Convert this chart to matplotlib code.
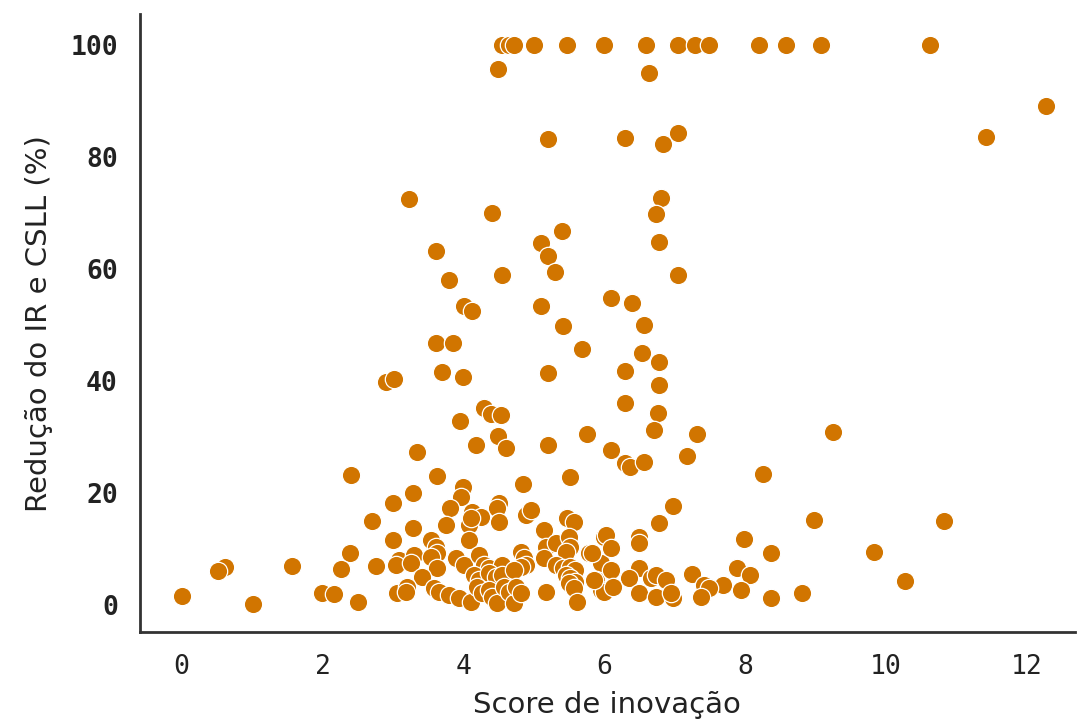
import matplotlib
matplotlib.use("Agg")
import matplotlib.pyplot as plt

# Score de inovação (x) and Redução do IR e CSLL (%) (y)
score = [
    4.55, 4.65, 4.72, 5.00, 5.47, 5.99, 6.59, 7.05, 7.29, 7.49, 8.19, 8.58, 9.08, 10.62,
    4.49, 6.64, 12.27, 11.42, 6.30, 7.04, 6.84, 5.20,
    3.23, 4.41, 5.40, 5.10, 5.20, 5.30, 3.61, 3.80, 4.55, 4.01, 4.12, 5.10, 5.42, 5.68,
    6.09, 6.39, 3.61, 3.85, 3.70, 3.99, 2.90, 3.02, 5.20, 6.29,
    6.80, 6.73, 6.78, 7.05, 6.57, 6.53, 6.78, 6.78, 6.30, 6.76, 6.71, 7.32, 5.76, 6.09,
    6.30, 6.37, 6.56, 7.17,
    4.29, 4.39, 4.53, 3.95, 4.49, 4.18, 5.20, 4.60, 3.34,
    2.41, 3.63, 4.84, 5.52, 8.26, 3.99, 3.97, 3.29, 3.00, 4.50, 4.48, 4.89, 4.96, 3.81,
    4.12, 4.25, 2.71, 3.29, 3.75, 4.08, 4.11, 4.50, 5.47, 5.57, 5.14,
    3.00, 3.54, 3.61, 3.63, 4.08, 5.17, 5.31, 5.50, 5.52, 5.78, 5.99, 4.82, 4.86, 5.14, 5.45,
    3.09, 3.05, 3.30, 3.26, 3.54, 3.63, 3.90, 4.01, 4.22, 4.29, 4.36, 4.55, 4.89, 4.82,
    5.31, 5.42, 5.52, 5.59, 5.96,
    2.39, 2.27, 2.76, 1.57, 0.62, 0.51, 0.01, 1.02, 2.00, 2.17, 2.51,
    3.41, 4.15, 4.22, 4.36, 4.46, 4.55, 4.72, 5.45, 5.52, 5.59, 5.88,
    3.06, 3.20, 3.19, 3.58, 3.65, 3.80, 3.94, 4.11, 4.19, 4.26, 4.36, 4.41, 4.48, 4.58,
    4.65, 4.72, 4.75, 4.82, 5.17, 5.50, 5.57, 5.61, 5.95,
    6.98, 6.78, 6.03, 6.49, 6.49, 6.10, 5.82, 7.99, 8.37, 6.09, 6.49, 6.35, 6.66, 6.74,
    6.88, 7.24, 7.88, 8.07, 7.69, 7.41, 7.48, 7.38, 7.94, 8.37, 8.80, 5.99, 6.13, 6.49,
    6.74, 6.98, 6.95, 5.85,
    8.98, 9.24, 10.82, 9.83, 10.27,
]
reducao = [
    100, 100, 100, 100, 100, 100, 100, 100, 100, 100, 100, 100, 100, 100,
    95.7, 95.0, 89.1, 83.6, 83.4, 84.3, 82.3, 83.2,
    72.5, 70.0, 66.8, 64.6, 62.3, 59.5, 63.2, 58.0, 58.9, 53.4, 52.5, 53.4, 49.8, 45.7,
    54.8, 53.9, 46.8, 46.8, 41.6, 40.7, 39.8, 40.4, 41.4, 41.8,
    72.7, 69.8, 64.8, 58.8, 50.0, 45.0, 43.4, 39.3, 36.1, 34.3, 31.3, 30.5, 30.5, 27.7,
    25.4, 24.6, 25.5, 26.6,
    35.2, 34.1, 33.9, 32.9, 30.2, 28.6, 28.6, 28.0, 27.3,
    23.2, 23.0, 21.6, 22.9, 23.4, 21.1, 19.3, 20.0, 18.2, 18.2, 17.3, 16.1, 17.0, 17.3,
    16.6, 15.7, 15.0, 13.8, 14.3, 14.3, 15.5, 14.8, 15.5, 14.8, 13.4,
    11.6, 11.6, 10.4, 9.3, 11.6, 10.4, 11.1, 12.1, 10.4, 9.3, 12.1, 9.5, 8.4, 8.4, 9.5,
    8.0, 7.1, 8.9, 7.5, 8.6, 6.6, 8.4, 7.1, 8.9, 7.1, 6.6, 7.1, 7.1, 6.8,
    7.1, 6.6, 6.8, 6.3, 7.5,
    9.3, 6.4, 7.0, 7.0, 6.8, 6.1, 1.6, 0.2, 2.1, 2.0, 0.5,
    5.0, 5.4, 4.5, 5.7, 5.0, 5.4, 6.3, 5.4, 4.8, 4.1, 4.5,
    2.1, 3.2, 2.3, 3.0, 2.3, 1.8, 1.3, 0.5, 3.2, 2.1, 2.7, 1.4, 0.4, 3.2,
    2.3, 0.4, 3.2, 2.1, 2.3, 3.9, 3.0, 0.5, 2.7,
    17.7, 14.6, 12.5, 12.1, 11.1, 10.2, 9.3, 11.8, 9.3, 6.3, 6.6, 4.8, 4.8, 5.4,
    4.5, 5.5, 6.6, 5.4, 3.6, 3.6, 3.0, 1.4, 2.7, 1.3, 2.1, 2.3, 3.2, 2.1,
    1.4, 1.3, 2.1, 4.5,
    15.2, 30.9, 15.0, 9.5, 4.3,
]

x_ticks = [0, 2, 4, 6, 8, 10, 12]
y_ticks = [0, 20, 40, 60, 80, 100]

fig = plt.figure(figsize=(10.77, 7.22), dpi=100)
ax = fig.add_axes([0.130, 0.125, 0.868, 0.855])

ax.scatter(score, reducao, s=175, color="#d17500", edgecolor="white",
           linewidth=0.9, zorder=3)

ax.set_xlim(-0.59, 12.68)
ax.set_ylim(-4.8, 105.4)
ax.set_xticks(x_ticks)
ax.set_yticks(y_ticks)
ax.set_xticklabels([str(v) for v in x_ticks], fontfamily="DejaVu Sans Mono", fontsize=19)
ax.set_yticklabels([str(v) for v in y_ticks], fontfamily="DejaVu Sans Mono", fontsize=19,
                   fontweight="bold")
ax.tick_params(axis="both", length=0, pad=16, colors="#222222")

for side in ["top", "right"]:
    ax.spines[side].set_visible(False)
for side in ["left", "bottom"]:
    ax.spines[side].set_color("#333333")
    ax.spines[side].set_linewidth(2)

ax.set_xlabel("Score de inovação", fontsize=21, color="#222222", labelpad=8)
ax.set_ylabel("Redução do IR e CSLL (%)", fontsize=21, color="#222222", labelpad=12)

fig.savefig("out.png", dpi=100, facecolor="white")
